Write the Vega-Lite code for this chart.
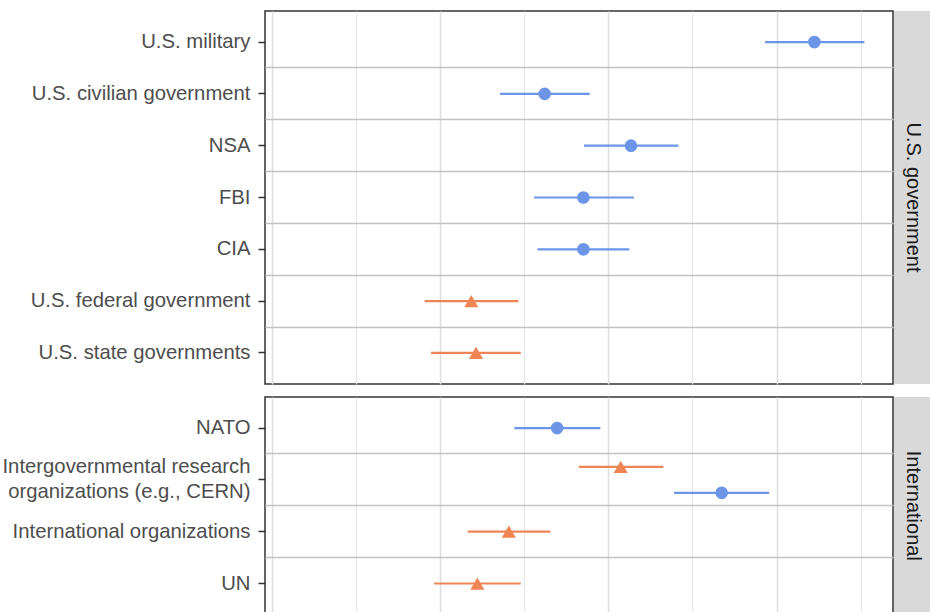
{
  "$schema": "https://vega.github.io/schema/vega-lite/v6.json",
  "padding": {"left": 1, "top": 10, "right": 0, "bottom": 0},
  "background": "white",
  "config": {
    "font": "Liberation Sans",
    "view": {"stroke": null}
  },
  "data": {
    "values": [
      {"panel": "U.S. government", "agency": "U.S. military", "group": "A", "dodge": "center", "est": 4.225, "lo": 3.932, "hi": 4.522},
      {"panel": "U.S. government", "agency": "U.S. civilian government", "group": "A", "dodge": "center", "est": 2.622, "lo": 2.357, "hi": 2.890},
      {"panel": "U.S. government", "agency": "NSA", "group": "A", "dodge": "center", "est": 3.135, "lo": 2.856, "hi": 3.417},
      {"panel": "U.S. government", "agency": "FBI", "group": "A", "dodge": "center", "est": 2.852, "lo": 2.559, "hi": 3.153},
      {"panel": "U.S. government", "agency": "CIA", "group": "A", "dodge": "center", "est": 2.852, "lo": 2.579, "hi": 3.125},
      {"panel": "U.S. government", "agency": "U.S. federal government", "group": "B", "dodge": "center", "est": 2.186, "lo": 1.909, "hi": 2.466},
      {"panel": "U.S. government", "agency": "U.S. state governments", "group": "B", "dodge": "center", "est": 2.214, "lo": 1.947, "hi": 2.480},
      {"panel": "International", "agency": "NATO", "group": "A", "dodge": "center", "est": 2.696, "lo": 2.442, "hi": 2.953},
      {"panel": "International", "agency": "Intergovernmental research\norganizations (e.g., CERN)", "group": "B", "dodge": "upper", "est": 3.074, "lo": 2.825, "hi": 3.327},
      {"panel": "International", "agency": "Intergovernmental research\norganizations (e.g., CERN)", "group": "A", "dodge": "lower", "est": 3.674, "lo": 3.391, "hi": 3.956},
      {"panel": "International", "agency": "International organizations", "group": "B", "dodge": "center", "est": 2.409, "lo": 2.165, "hi": 2.656},
      {"panel": "International", "agency": "UN", "group": "B", "dodge": "center", "est": 2.222, "lo": 1.965, "hi": 2.480}
    ]
  },
  "spacing": 11,
  "resolve": {"scale": {"y": "independent", "yOffset": "independent", "x": "independent"}},
  "vconcat": [
    {
      "spacing": 0,
      "resolve": {"scale": {"y": "independent", "yOffset": "independent", "x": "independent"}},
      "hconcat": [
        {
          "width": 628,
          "height": 373,
          "view": {"stroke": "#333333", "strokeWidth": 1.5, "fill": "white"},
          "transform": [{"filter": "datum.panel === 'U.S. government'"}],
          "resolve": {"axis": {"y": "independent"}},
          "layer": [
            {
              "mark": {"type": "rule", "strokeWidth": 2.2},
              "encoding": {
                "y": {"field": "agency", "type": "nominal", "sort": ["U.S. military", "U.S. civilian government", "NSA", "FBI", "CIA", "U.S. federal government", "U.S. state governments"], "scale": {"paddingInner": 0, "paddingOuter": 0.1},
                  "axis": {"orient": "left", "title": null, "grid": false, "domain": false, "ticks": true, "tickSize": 7, "tickWidth": 1.5, "tickColor": "#333333", "labelFontSize": 20.3, "labelFont": "Liberation Sans", "labelColor": "#4d4d4d", "labelPadding": 8, "labelLimit": 400, "labelLineHeight": 25, "labelExpr": "split(datum.label, '\\n')", "minExtent": 263, "maxExtent": 263}},
                "yOffset": {"field": "dodge", "type": "nominal", "scale": {"type": "point", "domain": ["upper", "center", "lower"], "padding": 1}},
                "x": {"field": "lo", "type": "quantitative", "scale": {"domain": [0.96, 4.692], "nice": false, "zero": false},
                  "axis": {"title": null, "labels": false, "ticks": false, "domain": false, "grid": true, "minExtent": 0, "maxExtent": 0, "values": [1, 1.5, 2, 2.5, 3, 3.5, 4, 4.5], "gridColor": {"condition": {"test": "datum.value % 1 === 0", "value": "#dedede"}, "value": "#e8e8e8"}, "gridWidth": {"condition": {"test": "datum.value % 1 === 0", "value": 1.5}, "value": 1.2}}},
                "x2": {"field": "hi"},
                "color": {"field": "group", "type": "nominal", "scale": {"domain": ["A", "B"], "range": ["#6c95e8", "#ef8555"]}, "legend": null}
              }
            },
            {
              "mark": {"type": "point", "filled": true, "opacity": 1, "strokeWidth": 0},
              "encoding": {
                "y": {"field": "agency", "type": "nominal", "sort": ["U.S. military", "U.S. civilian government", "NSA", "FBI", "CIA", "U.S. federal government", "U.S. state governments"], "scale": {"paddingInner": 0, "paddingOuter": 0.1},
                  "axis": {"orient": "right", "title": null, "labels": false, "ticks": false, "domain": false, "grid": true, "gridColor": "#c2c2c2", "gridWidth": 1.7, "bandPosition": 0, "minExtent": 0, "maxExtent": 0, "values": ["U.S. civilian government", "NSA", "FBI", "CIA", "U.S. federal government", "U.S. state governments"]}},
                "yOffset": {"field": "dodge", "type": "nominal", "scale": {"type": "point", "domain": ["upper", "center", "lower"], "padding": 1}},
                "x": {"field": "est", "type": "quantitative", "scale": {"domain": [0.96, 4.692], "nice": false, "zero": false},
                  "axis": {"title": null, "labels": false, "ticks": false, "domain": false, "grid": true, "minExtent": 0, "maxExtent": 0, "values": [1, 1.5, 2, 2.5, 3, 3.5, 4, 4.5], "gridColor": {"condition": {"test": "datum.value % 1 === 0", "value": "#dedede"}, "value": "#e8e8e8"}, "gridWidth": {"condition": {"test": "datum.value % 1 === 0", "value": 1.5}, "value": 1.2}}},
                "color": {"field": "group", "type": "nominal", "scale": {"domain": ["A", "B"], "range": ["#6c95e8", "#ef8555"]}, "legend": null},
                "shape": {"field": "group", "type": "nominal", "scale": {"domain": ["A", "B"], "range": ["circle", "triangle-up"]}, "legend": null},
                "size": {"field": "group", "type": "nominal", "scale": {"domain": ["A", "B"], "range": [160, 200]}, "legend": null}
              }
            }
          ]
        },
        {
          "width": 40,
          "height": 373,
          "data": {"values": [{"strip": "U.S. government"}]},
          "view": {"fill": "#d9d9d9", "stroke": null},
          "mark": {"type": "text", "angle": 90, "fontSize": 20, "font": "Liberation Sans", "color": "#1a1a1a", "align": "center", "baseline": "middle", "dx": 0, "dy": 1},
          "encoding": {"text": {"field": "strip"}}
        }
      ]
    },
    {
      "spacing": 0,
      "resolve": {"scale": {"y": "independent", "yOffset": "independent", "x": "independent"}},
      "hconcat": [
        {
          "width": 628,
          "height": 217.6,
          "view": {"stroke": "#333333", "strokeWidth": 1.5, "fill": "white"},
          "transform": [{"filter": "datum.panel === 'International'"}],
          "resolve": {"axis": {"y": "independent"}},
          "layer": [
            {
              "mark": {"type": "rule", "strokeWidth": 2.2},
              "encoding": {
                "y": {"field": "agency", "type": "nominal", "sort": ["NATO", "Intergovernmental research\norganizations (e.g., CERN)", "International organizations", "UN"], "scale": {"paddingInner": 0, "paddingOuter": 0.1},
                  "axis": {"orient": "left", "title": null, "grid": false, "domain": false, "ticks": true, "tickSize": 7, "tickWidth": 1.5, "tickColor": "#333333", "labelFontSize": 20.3, "labelFont": "Liberation Sans", "labelColor": "#4d4d4d", "labelPadding": 8, "labelLimit": 400, "labelLineHeight": 25, "labelExpr": "split(datum.label, '\\n')", "labelOffset": {"condition": {"test": "indexof(datum.label, '\\n') >= 0", "value": -12.5}, "value": 0}, "minExtent": 263, "maxExtent": 263}},
                "yOffset": {"field": "dodge", "type": "nominal", "scale": {"type": "point", "domain": ["upper", "center", "lower"], "padding": 1}},
                "x": {"field": "lo", "type": "quantitative", "scale": {"domain": [0.96, 4.692], "nice": false, "zero": false},
                  "axis": {"title": null, "labels": false, "ticks": false, "domain": false, "grid": true, "minExtent": 0, "maxExtent": 0, "values": [1, 1.5, 2, 2.5, 3, 3.5, 4, 4.5], "gridColor": {"condition": {"test": "datum.value % 1 === 0", "value": "#dedede"}, "value": "#e8e8e8"}, "gridWidth": {"condition": {"test": "datum.value % 1 === 0", "value": 1.5}, "value": 1.2}}},
                "x2": {"field": "hi"},
                "color": {"field": "group", "type": "nominal", "scale": {"domain": ["A", "B"], "range": ["#6c95e8", "#ef8555"]}, "legend": null}
              }
            },
            {
              "mark": {"type": "point", "filled": true, "opacity": 1, "strokeWidth": 0},
              "encoding": {
                "y": {"field": "agency", "type": "nominal", "sort": ["NATO", "Intergovernmental research\norganizations (e.g., CERN)", "International organizations", "UN"], "scale": {"paddingInner": 0, "paddingOuter": 0.1},
                  "axis": {"orient": "right", "title": null, "labels": false, "ticks": false, "domain": false, "grid": true, "gridColor": "#c2c2c2", "gridWidth": 1.7, "bandPosition": 0, "minExtent": 0, "maxExtent": 0, "values": ["Intergovernmental research\norganizations (e.g., CERN)", "International organizations", "UN"]}},
                "yOffset": {"field": "dodge", "type": "nominal", "scale": {"type": "point", "domain": ["upper", "center", "lower"], "padding": 1}},
                "x": {"field": "est", "type": "quantitative", "scale": {"domain": [0.96, 4.692], "nice": false, "zero": false},
                  "axis": {"title": null, "labels": false, "ticks": false, "domain": false, "grid": true, "minExtent": 0, "maxExtent": 0, "values": [1, 1.5, 2, 2.5, 3, 3.5, 4, 4.5], "gridColor": {"condition": {"test": "datum.value % 1 === 0", "value": "#dedede"}, "value": "#e8e8e8"}, "gridWidth": {"condition": {"test": "datum.value % 1 === 0", "value": 1.5}, "value": 1.2}}},
                "color": {"field": "group", "type": "nominal", "scale": {"domain": ["A", "B"], "range": ["#6c95e8", "#ef8555"]}, "legend": null},
                "shape": {"field": "group", "type": "nominal", "scale": {"domain": ["A", "B"], "range": ["circle", "triangle-up"]}, "legend": null},
                "size": {"field": "group", "type": "nominal", "scale": {"domain": ["A", "B"], "range": [160, 200]}, "legend": null}
              }
            }
          ]
        },
        {
          "width": 40,
          "height": 217.6,
          "data": {"values": [{"strip": "International"}]},
          "view": {"fill": "#d9d9d9", "stroke": null},
          "mark": {"type": "text", "angle": 90, "fontSize": 20, "font": "Liberation Sans", "color": "#1a1a1a", "align": "center", "baseline": "middle", "dx": 0, "dy": 1},
          "encoding": {"text": {"field": "strip"}}
        }
      ]
    }
  ]
}
